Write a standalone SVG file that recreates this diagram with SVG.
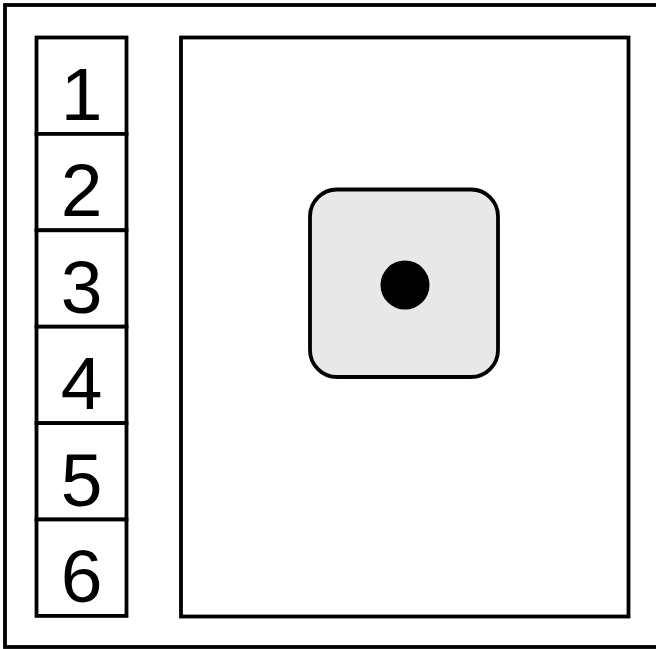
<svg xmlns="http://www.w3.org/2000/svg" width="656" height="649" viewBox="0 0 656 649">
<style>
.b{fill:none;stroke:#000;stroke-width:3.8}
.c{fill:#fff;stroke:#000;stroke-width:3.8}
.t{font-family:"Liberation Sans",Arial,sans-serif;font-size:75px;fill:#000;text-anchor:middle}
</style>
<rect width="656" height="649" fill="#fff"/>
<rect id="outer" class="b" x="5" y="5" width="670" height="642"/>
<g id="cells">
<g id="cell1"><rect class="c" x="36.5" y="37.5" width="90" height="96.4"/><text class="t" x="81.5" y="120">1</text></g>
<g id="cell2"><rect class="c" x="36.5" y="133.9" width="90" height="96.4"/><text class="t" x="81.5" y="216.4">2</text></g>
<g id="cell3"><rect class="c" x="36.5" y="230.3" width="90" height="96.4"/><text class="t" x="81.5" y="312.8">3</text></g>
<g id="cell4"><rect class="c" x="36.5" y="326.7" width="90" height="96.4"/><text class="t" x="81.5" y="409.2">4</text></g>
<g id="cell5"><rect class="c" x="36.5" y="423.1" width="90" height="96.4"/><text class="t" x="81.5" y="505.6">5</text></g>
<g id="cell6"><rect class="c" x="36.5" y="519.5" width="90" height="96.4"/><text class="t" x="81.5" y="602">6</text></g>
</g>
<g id="board"><rect class="c" x="181" y="37.5" width="447.5" height="579"/></g>
<g id="die">
<rect x="310" y="189.5" width="188" height="187.5" rx="27" ry="27" fill="#e8e8e8" stroke="#000" stroke-width="3.8"/>
<circle cx="405" cy="285" r="24.5" fill="#000"/>
</g>
<g id="connectors"/>
</svg>
